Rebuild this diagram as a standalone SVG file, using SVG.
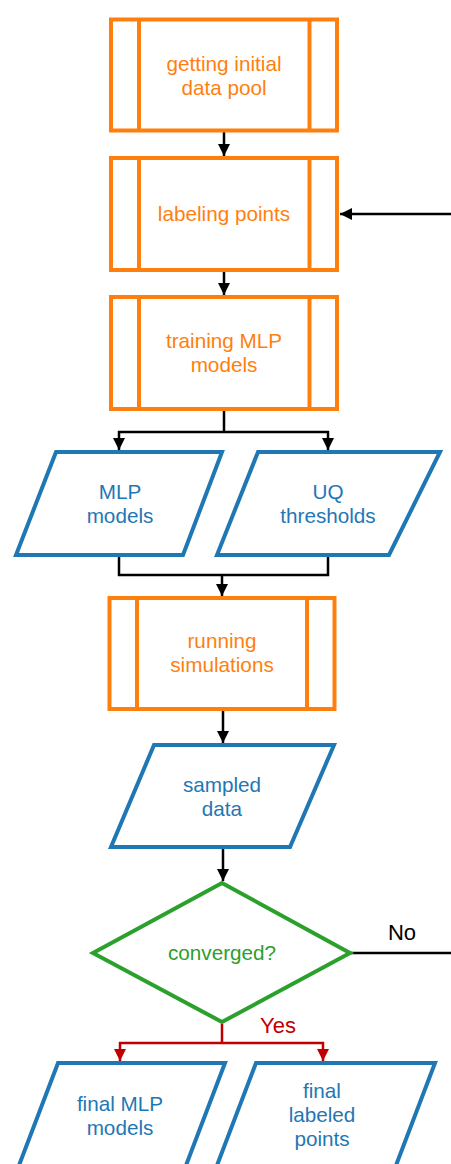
<svg xmlns="http://www.w3.org/2000/svg" width="451" height="1164" viewBox="0 0 451 1164">
<style>
  .proc { fill: #fff; stroke: #FF7F0E; stroke-width: 4; }
  .pline { stroke: #FF7F0E; stroke-width: 4; }
  .data { fill: #fff; stroke: #1F77B4; stroke-width: 4; stroke-linejoin: miter; }
  .dec { fill: #fff; stroke: #2CA02C; stroke-width: 4; }
  text { font-family: "Liberation Sans", Arial, sans-serif; font-size: 20.7px; text-anchor: middle; }
  .to { fill: #FF7F0E; }
  .tb { fill: #1F77B4; }
  .tg { fill: #2CA02C; }
  .conn { fill: none; stroke: #000; stroke-width: 2.5; }
  .connr { fill: none; stroke: #C00000; stroke-width: 2.5; }
  .lbl { font-size: 22px; }
</style>
<defs>
  <marker id="ah" markerUnits="userSpaceOnUse" markerWidth="12" markerHeight="12" refX="12" refY="6" orient="auto">
    <path d="M0,0 L12,6 L0,12 z" fill="#000"/>
  </marker>
  <marker id="ahr" markerUnits="userSpaceOnUse" markerWidth="12" markerHeight="12" refX="12" refY="6" orient="auto">
    <path d="M0,0 L12,6 L0,12 z" fill="#C00000"/>
  </marker>
</defs>
<rect width="451" height="1164" fill="#fff"/>

<g id="connectors">
  <path class="conn" d="M224,132 L224,156" marker-end="url(#ah)"/>
  <path class="conn" d="M224,272 L224,295" marker-end="url(#ah)"/>
  <path class="conn" d="M224,411 L224,432 M118,432 L329,432"/>
  <path class="conn" d="M119,431 L119,450" marker-end="url(#ah)"/>
  <path class="conn" d="M328,431 L328,450" marker-end="url(#ah)"/>
  <path class="conn" d="M119,557 L119,575 L328,575 L328,557"/>
  <path class="conn" d="M222,575 L222,596" marker-end="url(#ah)"/>
  <path class="conn" d="M223,711 L223,743" marker-end="url(#ah)"/>
  <path class="conn" d="M223,849 L223,881" marker-end="url(#ah)"/>
  <path class="conn" d="M350,953 L470,953 L470,214 L340,214" marker-end="url(#ah)"/>
  <path class="connr" d="M222,1024 L222,1043 M119,1043 L324,1043"/>
  <path class="connr" d="M120,1042 L120,1061" marker-end="url(#ahr)"/>
  <path class="connr" d="M323,1042 L323,1061" marker-end="url(#ahr)"/>
  <text class="lbl" x="402" y="940" fill="#000">No</text>
  <text class="lbl" x="278" y="1033" fill="#C00000">Yes</text>
</g>

<g id="n1">
  <rect class="proc" x="111" y="19.5" width="226" height="111"/>
  <line class="pline" x1="139" y1="19.5" x2="139" y2="130.5"/>
  <line class="pline" x1="309.5" y1="19.5" x2="309.5" y2="130.5"/>
  <text class="to" x="224" y="71">getting initial</text>
  <text class="to" x="224" y="95">data pool</text>
</g>

<g id="n2">
  <rect class="proc" x="111" y="158" width="226" height="112"/>
  <line class="pline" x1="139" y1="158" x2="139" y2="270"/>
  <line class="pline" x1="309.5" y1="158" x2="309.5" y2="270"/>
  <text class="to" x="224" y="221">labeling points</text>
</g>

<g id="n3">
  <rect class="proc" x="111" y="297" width="226" height="112"/>
  <line class="pline" x1="139" y1="297" x2="139" y2="409"/>
  <line class="pline" x1="309.5" y1="297" x2="309.5" y2="409"/>
  <text class="to" x="224" y="348">training MLP</text>
  <text class="to" x="224" y="372">models</text>
</g>

<g id="n4">
  <polygon class="data" points="56,452 222,452 183,555 16,555"/>
  <text class="tb" x="120" y="499">MLP</text>
  <text class="tb" x="120" y="523">models</text>
</g>

<g id="n5">
  <polygon class="data" points="258,452 440,452 389,555 217,555"/>
  <text class="tb" x="328" y="499">UQ</text>
  <text class="tb" x="328" y="523">thresholds</text>
</g>

<g id="n6">
  <rect class="proc" x="109.5" y="598" width="225" height="111"/>
  <line class="pline" x1="137" y1="598" x2="137" y2="709"/>
  <line class="pline" x1="307" y1="598" x2="307" y2="709"/>
  <text class="to" x="222" y="648">running</text>
  <text class="to" x="222" y="672">simulations</text>
</g>

<g id="n7">
  <polygon class="data" points="154,745 334,745 290,847 111,847"/>
  <text class="tb" x="222" y="792">sampled</text>
  <text class="tb" x="222" y="816">data</text>
</g>

<g id="n8">
  <polygon class="dec" points="222,883 350,953 222,1022 93,953"/>
  <text class="tg" x="222" y="960">converged?</text>
</g>

<g id="n9">
  <polygon class="data" points="58,1063 225,1063 185,1168 18,1168"/>
  <text class="tb" x="120" y="1111">final MLP</text>
  <text class="tb" x="120" y="1135">models</text>
</g>

<g id="n10">
  <polygon class="data" points="256,1063 435,1063 395,1168 216,1168"/>
  <text class="tb" x="322" y="1098">final</text>
  <text class="tb" x="322" y="1122">labeled</text>
  <text class="tb" x="322" y="1146">points</text>
</g>
</svg>
